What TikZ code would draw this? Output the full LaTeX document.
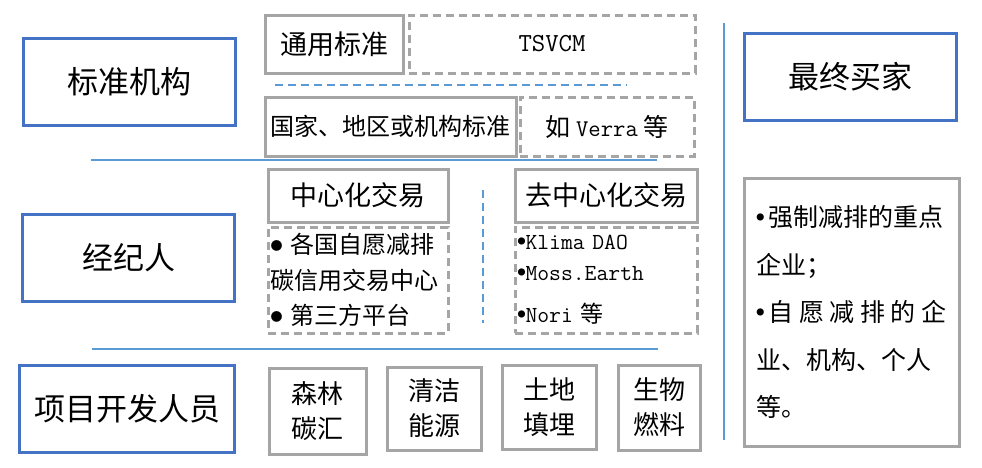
\documentclass[tikz,border=0pt]{standalone}
\usepackage{fontspec}
\setmainfont{Noto Sans CJK SC}
\definecolor{boxblue}{HTML}{4472C4}
\definecolor{lineblue}{HTML}{5B9BD5}
\definecolor{boxgray}{HTML}{A5A5A5}
\newcommand\bigdot{\raisebox{3pt}{\rmfamily\fontsize{12}{12}\selectfont●}}
\newcommand\listdot[1]{\raisebox{#1}{\rmfamily\fontsize{8}{8}\selectfont●}}

\begin{document}
\begin{tikzpicture}[x=1pt, y=-1pt,
    role/.style={draw=boxblue, line width=3pt, minimum width=212pt, minimum height=87pt, font=\fontsize{31}{36}\selectfont},
    item/.style={draw=boxgray, line width=3pt, inner sep=0pt, align=center},
    dashitem/.style={item, dash pattern=on 8pt off 5pt},
    split/.style={lineblue, line width=2pt},
    dashsplit/.style={split, dash pattern=on 8pt off 5pt}
]
\useasboundingbox (0,0) rectangle (982,467);

% left column
\node[role] (std) at (129,82) {标准机构};
\node[role] (broker) at (128.5,258) {经纪人};
\node[role, minimum width=215pt] (dev) at (127,408.5) {项目开发人员};

% standards
\node[item, minimum width=138pt, minimum height=58pt, font=\fontsize{27}{30}\selectfont] (general) at (334,44) {通用标准};
\node[dashitem, minimum width=286pt, minimum height=58pt, font=\ttfamily\fontsize{26}{28}\selectfont] (tsvcm) at (552,44) {TSVCM};
\node[item, minimum width=251pt, minimum height=59pt, font=\fontsize{24}{28}\selectfont] (national) at (390.5,126.5) {国家、地区或机构标准};
\node[dashitem, minimum width=174pt, minimum height=59pt, font=\fontsize{25}{30}\selectfont] (verra) at (607,126.5) {如 {\ttfamily\fontsize{24}{28}\selectfont Verra} 等};

% trading
\node[item, minimum width=180pt, minimum height=53pt, font=\fontsize{27}{30}\selectfont] (central) at (358,195.5) {中心化交易};
\node[dashitem, minimum width=180pt, minimum height=106pt, text width=175pt, inner xsep=2.5pt, align=left, font=\fontsize{24}{35.5}\selectfont] (centrallist) at (358,280) {\bigdot\ 各国自愿减排\\碳信用交易中心\\\bigdot\ 第三方平台};
\node[item, minimum width=182pt, minimum height=53pt, font=\fontsize{27}{30}\selectfont] (decentral) at (606,195.5) {去中心化交易};
\node[dashitem, minimum width=182pt, minimum height=106pt, text width=177pt, inner xsep=2.5pt, align=left, font=\ttfamily\fontsize{23}{31}\selectfont] (decentrallist) at (606,280) {\listdot{5pt}Klima DAO\\\listdot{5pt}Moss.Earth\\[11pt]\listdot{5pt}Nori {\rmfamily 等}};

% projects
\node[item, minimum width=97pt, minimum height=86pt, font=\fontsize{26}{35}\selectfont] (forest) at (317.5,411) {森林\\碳汇};
\node[item, minimum width=94pt, minimum height=83pt, font=\fontsize{26}{35}\selectfont] (clean) at (434,408.5) {清洁\\能源};
\node[item, minimum width=94pt, minimum height=84pt, font=\fontsize{26}{35}\selectfont] (land) at (549,407) {土地\\填埋};
\node[item, minimum width=82pt, minimum height=85pt, font=\fontsize{26}{35}\selectfont] (bio) at (659,407.5) {生物\\燃料};

% buyers
\node[role] (buyer) at (850.5,76.5) {最终买家};
\node[item, minimum width=215pt, minimum height=268pt, align=left, font=\fontsize{25}{47.5}\selectfont] (buyerlist) at (851.5,312) {\listdot{6pt}\,强制减排的重点\\企业；\\\listdot{6pt}\,自 愿 减 排 的 企\\业、机构、个人\\等。};

% separators
\draw[dashsplit] (275,85) -- (627,85);
\draw[split] (91,160) -- (657,160);
\draw[dashsplit] (483,190) -- (483,323);
\draw[split] (92,349) -- (658,349);
\draw[split] (724,23) -- (724,440);
\end{tikzpicture}
\end{document}
